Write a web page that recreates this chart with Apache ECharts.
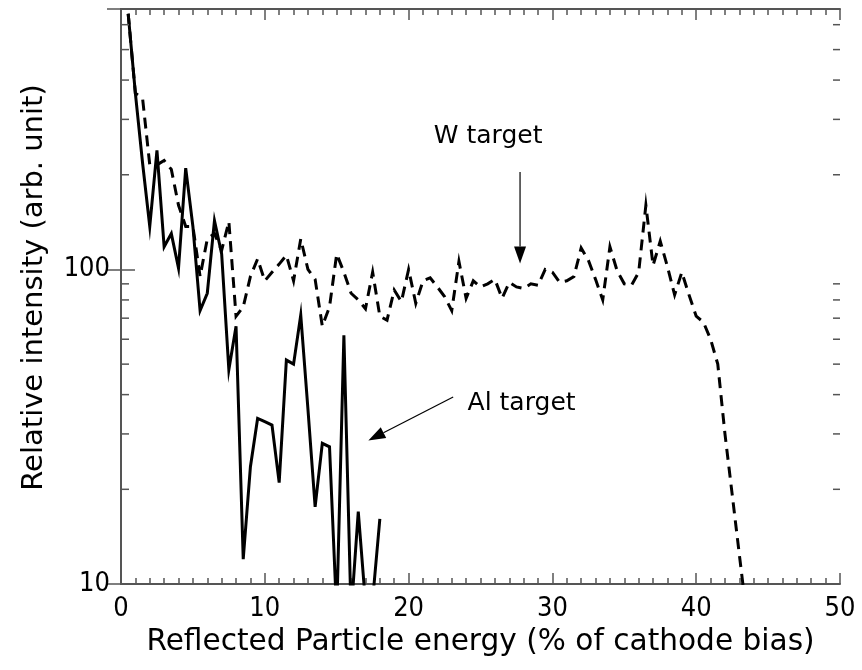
<!DOCTYPE html>
<html>
<head>
<meta charset="utf-8">
<script src="https://cdn.jsdelivr.net/npm/echarts@6/dist/echarts.min.js"></script>
<style>
  html, body { margin: 0; padding: 0; background: #ffffff; }
  #chart { width: 862px; height: 670px; }
</style>
</head>
<body>
<div id="chart"></div>
<script>
// Reflected particle energy spectra, Al and W targets (log intensity scale)

const alEnergy = [0.5, 1.0, 1.5, 2.0, 2.5, 3.0, 3.5, 4.0, 4.5, 5.0, 5.5, 6.0, 6.5, 7.0, 7.5, 8.0, 8.5, 9.0,
  9.5, 10.0, 10.5, 11.0, 11.5, 12.0, 12.5, 13.0, 13.5, 14.0, 14.5, 15.0, 15.5, 16.0, 16.5, 17.0, 17.5, 18.0];
const alIntensity = [650, 363, 218, 137, 239, 118, 130, 101, 210, 137, 74, 84, 143, 112, 48, 66, 12, 23.6,
  33.6, 32.8, 32, 21, 51.5, 50, 71.6, 36, 17.6, 28, 27.3, 8, 61.8, 8, 17, 8.7, 8.9, 16.1];

const wEnergy = [0.5, 1.0, 1.5, 2.0, 2.5, 3.0, 3.5, 4.0, 4.5, 5.0, 5.5, 6.0, 6.5, 7.0, 7.5, 8.0, 8.5, 9.0,
  9.5, 10.0, 10.5, 11.0, 11.5, 12.0, 12.5, 13.0, 13.5, 14.0, 14.5, 15.0, 15.5, 16.0, 16.5, 17.0, 17.5, 18.0,
  18.5, 19.0, 19.5, 20.0, 20.5, 21.0, 21.5, 22.0, 22.5, 23.0, 23.5, 24.0, 24.5, 25.0, 25.5, 26.0, 26.5, 27.0,
  27.5, 28.0, 28.5, 29.0, 29.5, 30.0, 30.5, 31.0, 31.5, 32.0, 32.5, 33.0, 33.5, 34.0, 34.5, 35.0, 35.5, 36.0,
  36.5, 37.0, 37.5, 38.0, 38.5, 39.0, 39.5, 40.0, 40.5, 41.0, 41.5, 42.0, 42.5, 43.0, 43.5];
const wIntensity = [650, 363, 350, 215, 215, 222, 208, 160, 137, 137, 95, 125, 130, 115, 142, 71, 76, 95,
  108, 92, 98, 104, 111, 92, 125, 100, 93, 66, 76, 112, 98, 84, 80, 75, 98, 71,
  69, 86, 79, 100, 78, 92, 94, 88, 82, 74, 106, 81, 92, 88, 90, 93, 81, 91,
  88, 87, 90, 89, 100, 98, 91, 92, 95, 117, 107, 93, 80, 118, 99, 90, 89, 98,
  160, 103, 123, 102, 83, 98, 83, 71, 68, 60, 50, 30, 19.3, 12.4, 8];

const xTickValues = [0, 10, 20, 30, 40, 50];
const yDecadeLabels = [10, 100];
const yMinorTicks = [20, 30, 40, 50, 60, 70, 80, 90, 200, 300, 400, 500, 600];
const yRange = [10, 673];

// callout texts and their arrows, anchored in data units (energy, intensity)
const notes = [
  { text: 'W target',  at: [21.75, 264], from: [27.75, 204], to: [27.75, 104.5] },
  { text: 'Al target', at: [24.1, 37.4], from: [23.1, 39.3], to: [17.2, 28.6] }
];

const TICK_FONT = '"DejaVu Sans Condensed", "DejaVu Sans", sans-serif';
const TITLE_FONT = '"DejaVu Sans", "Liberation Sans", sans-serif';
const FRAME = '#555555';

const chart = echarts.init(document.getElementById('chart'), null, { renderer: 'canvas' });

const xBase = {
  type: 'value', min: xTickValues[0], max: xTickValues[xTickValues.length - 1], interval: 10,
  splitLine: { show: false },
  axisLine: { show: true, lineStyle: { color: FRAME, width: 2 } },
  axisTick: { show: true, inside: true, length: 11, lineStyle: { color: FRAME, width: 1.5 } },
  minorTick: { show: true, splitNumber: 10, length: 6, lineStyle: { color: FRAME, width: 1.5 } }
};
const yBase = {
  type: 'log', logBase: 10, min: yRange[0], max: yRange[1],
  splitLine: { show: false },
  axisLine: { show: true, lineStyle: { color: FRAME, width: 2 } },
  axisTick: { show: true, inside: true, length: 14, lineStyle: { color: FRAME, width: 1.5 } }
};

chart.setOption({
  animation: false,
  backgroundColor: '#ffffff',
  grid: { left: 121, right: 22, top: 9, bottom: 86, containLabel: false },
  xAxis: [
    Object.assign({}, xBase, {
      position: 'bottom',
      name: 'Reflected Particle energy (% of cathode bias)',
      nameLocation: 'middle', nameGap: 41,
      nameTextStyle: { fontFamily: TITLE_FONT, fontSize: 29.6, color: '#000' },
      axisLabel: {
        show: true, margin: 11, fontFamily: TICK_FONT, fontSize: 27, color: '#000',
        formatter: v => (xTickValues.indexOf(v) >= 0 ? String(v) : '')
      }
    }),
    Object.assign({}, xBase, { position: 'top', axisLabel: { show: false } })
  ],
  yAxis: [
    Object.assign({}, yBase, {
      position: 'left',
      name: 'Relative intensity (arb. unit)',
      nameLocation: 'middle', nameGap: 72,
      nameTextStyle: { fontFamily: TITLE_FONT, fontSize: 29, color: '#000', padding: [0, 0, 0, 18] },
      axisLabel: {
        show: true, margin: 11, fontFamily: TICK_FONT, fontSize: 27, color: '#000',
        showMaxLabel: false,
        formatter: v => (yDecadeLabels.some(d => Math.abs(d - v) < 1e-6 * d) ? String(Math.round(v)) : '')
      }
    }),
    Object.assign({}, yBase, { position: 'right', axisLabel: { show: false } })
  ],
  series: [
    {
      name: 'Al target', type: 'line', xAxisIndex: 0, yAxisIndex: 0,
      data: alEnergy.map((e, i) => [e, alIntensity[i]]),
      showSymbol: false, clip: true, z: 3,
      lineStyle: { color: '#000', width: 3, join: 'miter' }
    },
    {
      name: 'W target', type: 'line', xAxisIndex: 0, yAxisIndex: 0,
      data: wEnergy.map((e, i) => [e, wIntensity[i]]),
      showSymbol: false, clip: true, z: 3,
      lineStyle: { color: '#000', width: 3, type: [11, 7], cap: 'butt', join: 'miter' }
    },
    {
      // minor decade ticks (20..90, 200..600) on both vertical frame edges
      type: 'custom', xAxisIndex: 0, yAxisIndex: 0, silent: true, clip: false, z: 4,
      data: yMinorTicks.map(v => [xTickValues[0], v]),
      encode: { x: 0, y: 1 },
      renderItem: (params, api) => {
        const v = api.value(1);
        const l = api.coord([xTickValues[0], v]);
        const r = api.coord([xTickValues[xTickValues.length - 1], v]);
        const st = { stroke: FRAME, lineWidth: 1.5 };
        return {
          type: 'group',
          children: [
            { type: 'line', shape: { x1: l[0], y1: l[1], x2: l[0] + 8, y2: l[1] }, style: st },
            { type: 'line', shape: { x1: r[0] - 7, y1: r[1], x2: r[0], y2: r[1] }, style: st }
          ]
        };
      }
    }
  ]
});

// callouts: text plus thin arrow with filled head, converted from data units
function drawNotes() {
  const els = [];
  notes.forEach(n => {
    const p = chart.convertToPixel({ gridIndex: 0 }, n.at);
    const a = chart.convertToPixel({ gridIndex: 0 }, n.from);
    const b = chart.convertToPixel({ gridIndex: 0 }, n.to);
    els.push({
      type: 'text', x: p[0], y: p[1], z: 10,
      style: { text: n.text, fontFamily: TITLE_FONT, fontSize: 25, fill: '#000',
               textAlign: 'left', textVerticalAlign: 'middle' }
    });
    const dx = b[0] - a[0], dy = b[1] - a[1];
    const len = Math.sqrt(dx * dx + dy * dy);
    const ux = dx / len, uy = dy / len;
    const headLen = 17, headHalf = 6;
    const bx = b[0] - ux * headLen, by = b[1] - uy * headLen;
    els.push({
      type: 'line', z: 10,
      shape: { x1: a[0], y1: a[1], x2: bx, y2: by },
      style: { stroke: '#000', lineWidth: 1.2 }
    });
    els.push({
      type: 'polygon', z: 10,
      shape: { points: [[b[0], b[1]], [bx - uy * headHalf, by + ux * headHalf], [bx + uy * headHalf, by - ux * headHalf]] },
      style: { fill: '#000' }
    });
  });
  chart.setOption({ graphic: { elements: els } });
}
drawNotes();
</script>
</body>
</html>
